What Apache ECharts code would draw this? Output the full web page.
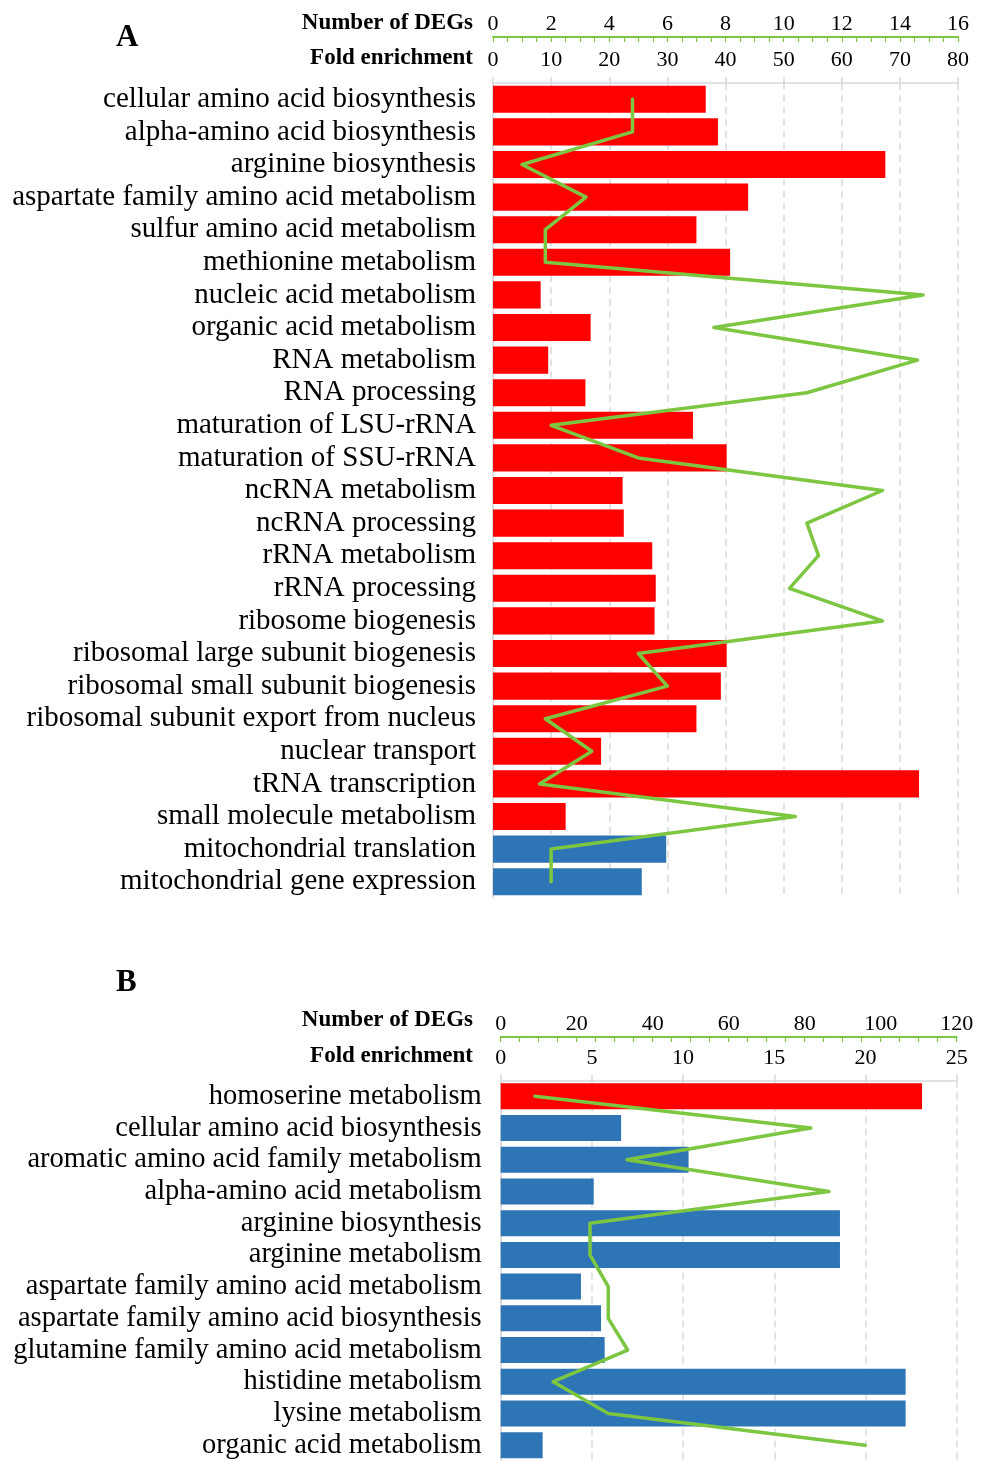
<!DOCTYPE html>
<html>
<head>
<meta charset="utf-8">
<script src="https://cdn.jsdelivr.net/npm/echarts@6/dist/echarts.min.js"></script>
<style>
html,body{margin:0;padding:0;background:#fff;}
#chart{width:983px;height:1461px;}
</style>
</head>
<body>
<div id="chart"></div>
<script>
// ---------- Panel A data ----------
const categoriesA = [
  'cellular amino acid biosynthesis','alpha-amino acid biosynthesis','arginine biosynthesis',
  'aspartate family amino acid metabolism','sulfur amino acid metabolism','methionine metabolism',
  'nucleic acid metabolism','organic acid metabolism','RNA metabolism','RNA processing',
  'maturation of LSU-rRNA','maturation of SSU-rRNA','ncRNA metabolism','ncRNA processing',
  'rRNA metabolism','rRNA processing','ribosome biogenesis','ribosomal large subunit biogenesis',
  'ribosomal small subunit biogenesis','ribosomal subunit export from nucleus','nuclear transport',
  'tRNA transcription','small molecule metabolism','mitochondrial translation','mitochondrial gene expression'
];
const foldA = [36.6,38.7,67.5,43.9,35.0,40.8,8.2,16.8,9.5,15.9,34.4,40.2,22.3,22.5,27.4,28.0,27.8,40.2,39.2,35.0,18.6,73.3,12.5,29.8,25.6];
const degsA = [4.8,4.8,1.0,3.2,1.8,1.8,14.8,7.6,14.6,10.8,2.0,5.0,13.4,10.8,11.2,10.2,13.4,5.0,6.0,1.8,3.4,1.6,10.4,2.0,2.0];
const regA = ['up','up','up','up','up','up','up','up','up','up','up','up','up','up','up','up','up','up','up','up','up','up','up','down','down'];
const foldTicksA = {min:0, max:80, interval:10};
const degTicksA = {min:0, max:16, interval:2};

// ---------- Panel B data ----------
const categoriesB = [
  'homoserine metabolism','cellular amino acid biosynthesis','aromatic amino acid family metabolism',
  'alpha-amino acid metabolism','arginine biosynthesis','arginine metabolism',
  'aspartate family amino acid metabolism','aspartate family amino acid biosynthesis',
  'glutamine family amino acid metabolism','histidine metabolism','lysine metabolism','organic acid metabolism'
];
const foldB = [23.1,6.6,10.3,5.1,18.6,18.6,4.4,5.5,5.7,22.2,22.2,2.3];
const degsB = [9.0,81.6,33.2,86.4,23.5,23.5,28.3,28.3,33.4,13.8,28.3,95.9];
const regB = ['up','down','down','down','down','down','down','down','down','down','down','down'];
const foldTicksB = {min:0, max:25, interval:5};
const degTicksB = {min:0, max:120, interval:20};

// ---------- styles ----------
const SERIF = '"Liberation Serif","Times New Roman",serif';
const RED = '#FF0000', BLUE = '#2E75B6', GREEN = '#7CC641', GRID = '#D9D9D9';
const regColor = r => r === 'up' ? RED : BLUE;

function axesFor(gi, foldT, degT, degOffset, foldMargin) {
  return [
    { // fold enrichment
      type:'value', gridIndex:gi, position:'top', min:foldT.min, max:foldT.max, interval:foldT.interval,
      axisLine:{show:true, lineStyle:{color:GRID, width:1.5}},
      axisTick:{show:true, inside:false, length:6, lineStyle:{color:GRID, width:1.5}},
      axisLabel:{color:'#000', fontFamily:SERIF, fontSize:22, margin:foldMargin},
      splitLine:{show:true, lineStyle:{color:GRID, type:[7,5], width:1.5}}
    },
    { // number of DEGs
      type:'value', gridIndex:gi, position:'top', offset:degOffset,
      min:degT.min, max:degT.max, interval:degT.interval,
      axisLine:{show:true, onZero:false, lineStyle:{color:GREEN, width:2}},
      axisTick:{show:true, inside:true, length:5, lineStyle:{color:GREEN, width:1.2}},
      minorTick:{show:true, splitNumber:4, length:5, lineStyle:{color:GREEN, width:1.2}},
      axisLabel:{color:'#000', fontFamily:SERIF, fontSize:22, margin:2},
      splitLine:{show:false}
    }
  ];
}

function yAxisFor(gi, cats, margin, fs) {
  return {
    type:'category', gridIndex:gi, data:cats, inverse:true,
    axisLine:{show:true, lineStyle:{color:GRID, width:1.5}},
    axisTick:{show:false},
    axisLabel:{color:'#000', fontFamily:SERIF, fontSize:fs, margin:margin, interval:0, padding:[3,0,0,0]},
    splitLine:{show:false}
  };
}

const chart = echarts.init(document.getElementById('chart'), null, {renderer:'canvas'});
const option = {
  animation:false,
  backgroundColor:'#fff',
  grid:[
    {left:493, top:83, width:465, height:815, containLabel:false},
    {left:500.7, top:1080.5, width:456, height:380.5, containLabel:false}
  ],
  xAxis:[
    ...axesFor(0, foldTicksA, degTicksA, 46, 12),
    ...axesFor(1, foldTicksB, degTicksB, 43.5, 11)
  ],
  yAxis:[ yAxisFor(0, categoriesA, 17, 29), yAxisFor(1, categoriesB, 19, 28.5) ],
  series:[
    { type:'bar', xAxisIndex:0, yAxisIndex:0, barCategoryGap:'17%',
      data: foldA.map((v,i)=>({value:[v, categoriesA[i]], itemStyle:{color:regColor(regA[i])}})) },
    { type:'line', xAxisIndex:1, yAxisIndex:0, symbol:'none', z:5,
      lineStyle:{color:GREEN, width:3.5, join:'round', cap:'round'},
      data: degsA.map((v,i)=>[v, categoriesA[i]]) },
    { type:'bar', xAxisIndex:2, yAxisIndex:1, barCategoryGap:'18%',
      data: foldB.map((v,i)=>({value:[v, categoriesB[i]], itemStyle:{color:regColor(regB[i])}})) },
    { type:'line', xAxisIndex:3, yAxisIndex:1, symbol:'none', z:5,
      lineStyle:{color:GREEN, width:3.5, join:'round', cap:'round'},
      data: degsB.map((v,i)=>[v, categoriesB[i]]) }
  ],
  graphic:[
    {type:'text', left:116, top:22, style:{text:'A', font:'bold 31px '+SERIF, fill:'#000'}},
    {type:'text', left:116, top:967, style:{text:'B', font:'bold 31px '+SERIF, fill:'#000'}},
    {type:'text', right:983-473, top:12, style:{text:'Number of DEGs', font:'bold 23px '+SERIF, fill:'#000'}},
    {type:'text', right:983-473, top:47, style:{text:'Fold enrichment', font:'bold 23px '+SERIF, fill:'#000'}},
    {type:'text', right:983-473, top:1009, style:{text:'Number of DEGs', font:'bold 23px '+SERIF, fill:'#000'}},
    {type:'text', right:983-473, top:1045, style:{text:'Fold enrichment', font:'bold 23px '+SERIF, fill:'#000'}}
  ]
};
chart.setOption(option);
</script>
</body>
</html>
